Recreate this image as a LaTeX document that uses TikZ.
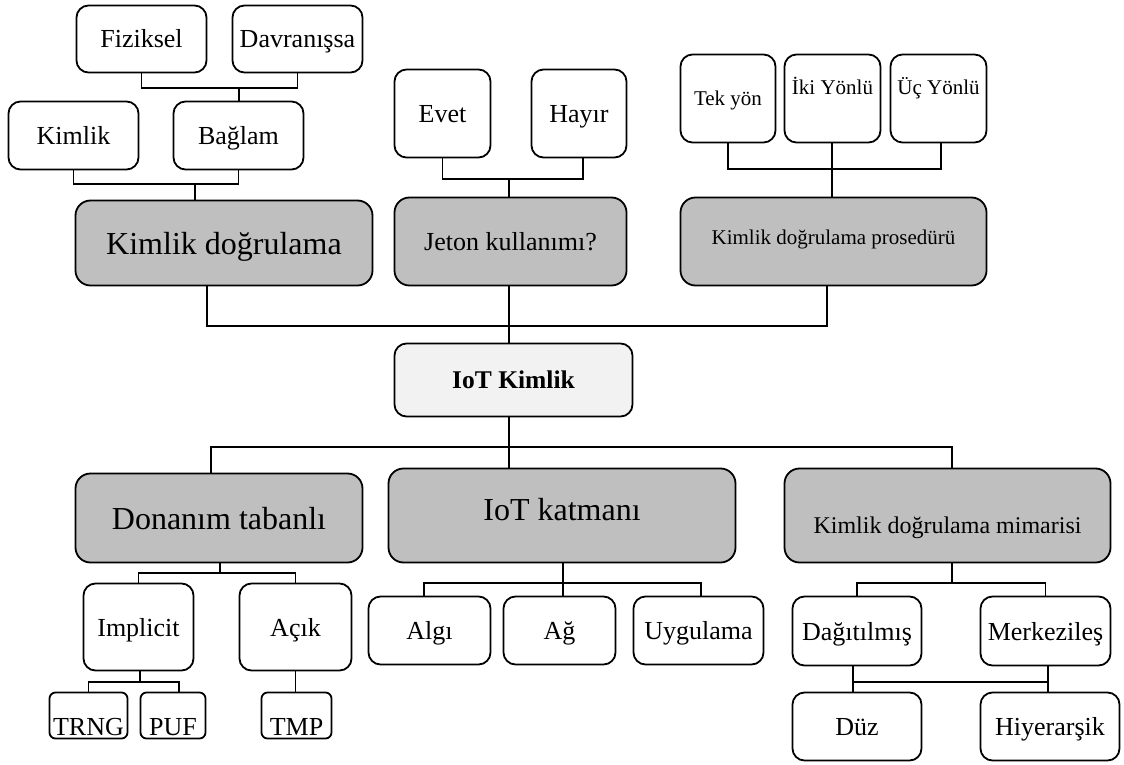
\documentclass[tikz,border=0pt]{standalone}
\usepackage{fontspec}
\setmainfont{Liberation Serif}
\definecolor{boxgray}{HTML}{BFBFBF}
\definecolor{rootgray}{HTML}{F2F2F2}
\tikzset{
    leaf/.style={draw, line width=1.8pt, rounded corners=12pt, inner sep=0pt, fill=white,
        font=\fontsize{26}{30}\selectfont, text height=18pt, text depth=0pt},
    tiny/.style={leaf, rounded corners=6pt, text height=39pt},
    group/.style={leaf, rounded corners=15pt, fill=boxgray},
    link/.style={line width=1.6pt}
}
\newcommand{\fsmall}{\fontsize{21}{25}\selectfont}
\newcommand{\fmid}{\fontsize{24}{28}\selectfont}
\newcommand{\fbig}{\fontsize{32}{38}\selectfont}
\begin{document}
\begin{tikzpicture}[x=1pt,y=-1pt]
        \useasboundingbox (0,0) rectangle (1124,765);
        \node[leaf, minimum width=130pt, minimum height=67pt] (fiz) at (141.5,39) {Fiziksel};
        \node[leaf, minimum width=130pt, minimum height=67pt] (dav) at (297.5,39) {Davranışsa};
        \node[leaf, minimum width=130pt, minimum height=68pt] (kim) at (73.5,135.5) {Kimlik};
        \node[leaf, minimum width=130pt, minimum height=68pt] (bag) at (238.5,135.5) {Bağlam};
        \node[group, minimum width=297pt, minimum height=85pt, font=\fbig, text height=22pt] (kd) at (224,243) {Kimlik doğrulama};
        \node[leaf, minimum width=96pt, minimum height=88pt] (evet) at (442.5,113.5) {Evet};
        \node[leaf, minimum width=95pt, minimum height=88pt] (hayir) at (579,113.5) {Hayır};
        \node[group, minimum width=232pt, minimum height=88pt] (jeton) at (510.5,241.5) {Jeton kullanımı?};
        \node[leaf, minimum width=95pt, minimum height=88pt, font=\fsmall, text height=15pt] (tek) at (728,98.5) {Tek yön};
        \node[leaf, minimum width=96pt, minimum height=88pt, font=\fsmall, text height=15pt, text depth=22pt] (iki) at (832.5,98.5) {İki Yönlü};
        \node[leaf, minimum width=96pt, minimum height=88pt, font=\fsmall, text height=15pt, text depth=22pt] (uc) at (938.5,98.5) {Üç Yönlü};
        \node[group, minimum width=306pt, minimum height=88pt, font=\fsmall, text height=15pt, text depth=10pt] (kdp) at (833.5,241.5) {Kimlik doğrulama prosedürü};
        \node[leaf, fill=rootgray, minimum width=238pt, minimum height=73pt, font=\bfseries\fontsize{25.5}{30}\selectfont, text height=17pt] (iot) at (513.5,380) {IoT Kimlik};
        \node[group, minimum width=287pt, minimum height=89pt, font=\fbig, text height=22pt] (don) at (219,518) {Donanım tabanlı};
        \node[group, minimum width=347pt, minimum height=94pt, font=\fbig, text height=22pt, text depth=13pt] (kat) at (562,515.5) {IoT katmanı};
        \node[group, minimum width=326pt, minimum height=94pt, font=\fmid, text height=35pt] (kdm) at (947.5,515.5) {Kimlik doğrulama mimarisi};
        \node[leaf, minimum width=110pt, minimum height=87pt] (imp) at (138.5,627) {Implicit};
        \node[leaf, minimum width=112pt, minimum height=87pt] (acik) at (295.5,627) {Açık};
        \node[tiny, minimum width=78pt, minimum height=46pt] (trng) at (88.5,715.5) {TRNG};
        \node[tiny, minimum width=65pt, minimum height=46pt] (puf) at (173,715.5) {PUF};
        \node[tiny, minimum width=70pt, minimum height=46pt] (tmp) at (296.5,715.5) {TMP};
        \node[leaf, minimum width=122pt, minimum height=68pt] (algi) at (429.5,630.5) {Algı};
        \node[leaf, minimum width=112pt, minimum height=68pt] (ag) at (559.5,630.5) {Ağ};
        \node[leaf, minimum width=130pt, minimum height=68pt] (uyg) at (698.5,630.5) {Uygulama};
        \node[leaf, minimum width=129pt, minimum height=69pt] (dag) at (857,631) {Dağıtılmış};
        \node[leaf, minimum width=130pt, minimum height=69pt] (mer) at (1045.5,631) {Merkezileş};
        \node[leaf, minimum width=129pt, minimum height=68pt] (duz) at (857,726.5) {Düz};
        \node[leaf, minimum width=139pt, minimum height=68pt] (hiy) at (1050,726.5) {Hiyerarşik};
        \coordinate (j1) at (239,88);
        \coordinate (j2) at (195,184);
        \coordinate (j3) at (509,179);
        \coordinate (j4) at (832,169);
        \coordinate (j5) at (509,326);
        \coordinate (j6) at (509,447);
        \coordinate (j7) at (220,573);
        \coordinate (j8) at (563,583);
        \coordinate (j9) at (952,583);
        \coordinate (j10) at (140,682);
        \coordinate (j11) at (853,682);
        \coordinate (j12) at (1048,682);
        \draw[link] (fiz.south) |- (j1) -| (dav.south) (j1) -- (j1 |- bag.north);
        \draw[link] (kim.south) |- (j2) -| (bag.south) (j2) -- (j2 |- kd.north);
        \draw[link] (evet.south) |- (j3) -| ([xshift=4pt]hayir.south) (j3) -- (j3 |- jeton.north);
        \draw[link] (tek.south) |- (j4) -| ([xshift=2.5pt]uc.south) (j4 |- iki.south) -- (j4 |- kdp.north);
        \draw[link] ([xshift=-17pt]kd.south) |- (j5) -| ([xshift=-6.5pt]kdp.south) (j5 |- jeton.south) -- (j5 |- iot.north);
        \draw[link] ([xshift=-8pt]don.north) |- (j6) -| ([xshift=4.5pt]kdm.north) (j6 |- iot.south) -- (j6 |- kat.north);
        \draw[link] (imp.north) |- (j7) -| (acik.north) (j7) -- (j7 |- don.south);
        \draw[link] ([xshift=-5.5pt]algi.north) |- (j8) -| ([xshift=2.5pt]uyg.north) (j8 |- kat.south) -- (j8 |- ag.north);
        \draw[link] (dag.north) |- (j9) -| (mer.north) (j9) -- (j9 |- kdm.south);
        \draw[link] (trng.north) |- (j10) -| ([xshift=6pt]puf.north) (j10) -- (j10 |- imp.south);
        \draw[link] (acik.south) -- (acik.south |- tmp.north);
        \draw[link] (j11 |- dag.south) -- (j11 |- duz.north) (j12 |- mer.south) -- (j12 |- hiy.north) (j11) -- (j12);
\end{tikzpicture}
\end{document}
